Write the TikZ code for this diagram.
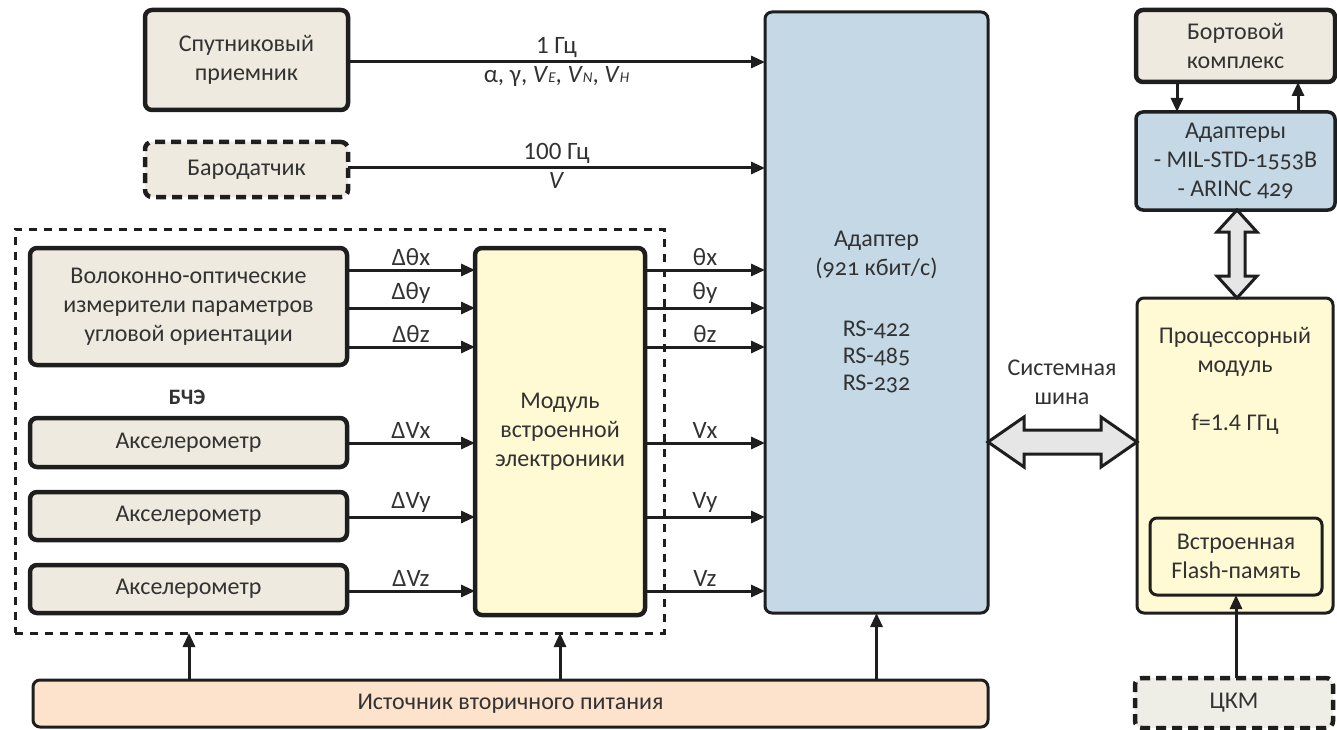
\documentclass[tikz,border=0pt]{standalone}
\usepackage{fontspec}
\setmainfont{Carlito}
\usetikzlibrary{arrows.meta}
\definecolor{bgbeige}{RGB}{238,234,223}
\definecolor{bgyellow}{RGB}{255,249,212}
\definecolor{bgblue}{RGB}{197,216,230}
\definecolor{bgorange}{RGB}{253,226,204}
\definecolor{bggrey}{RGB}{230,230,230}
\definecolor{bgckm}{RGB}{238,237,230}
\definecolor{linec}{RGB}{30,30,30}
\definecolor{txtc}{RGB}{50,50,50}
\newcommand\lowsub[1]{{\fontsize{15}{15}\selectfont\itshape #1}}
\newcommand\osnum{\addfontfeatures{Numbers=OldStyle}}
\begin{document}
\begin{tikzpicture}[x=1pt,y=-1pt,
  font=\fontsize{24}{29}\selectfont,
  every node/.style={text=txtc},
  boxbase/.style={draw=linec, rounded corners=7pt, align=center, inner sep=0pt, outer sep=0pt},
  heavybox/.style={boxbase, line width=4.5pt, fill=bgbeige},
  dashbox/.style={boxbase, line width=4.5pt, dash pattern=on 10pt off 6pt},
  thinbox/.style={boxbase, line width=3pt},
  arr/.style={draw=linec, line width=3pt, -{Triangle[length=14pt,width=12pt]}},
  lbl/.style={inner sep=3pt, font=\fontsize{25}{29}\selectfont},
  busarrow/.style={draw=linec, line width=3pt, fill=bggrey, line join=miter}]
\useasboundingbox (0,0) rectangle (1337,730);

% BCHE region
\node[draw=linec, line width=3pt, dash pattern=on 8pt off 7pt, minimum width=649, minimum height=404, inner sep=0pt, outer sep=0pt] (bche) at (339.5,431) {};
\node[font=\fontsize{22}{26}\selectfont\bfseries] (bchelbl) at (187,397) {БЧЭ};

% boxes
\node[heavybox, minimum width=203, minimum height=100] (sat) at (246.5,60) {Спутниковый\\приемник};
\node[dashbox, fill=bgbeige, minimum width=203, minimum height=55] (baro) at (246.5,169.5) {Бародатчик};
\node[heavybox, minimum width=317, minimum height=117] (fog) at (188.5,306.5) {Волоконно-оптические\\измерители параметров\\угловой ориентации};
\node[heavybox, minimum width=317, minimum height=49] (acc1) at (188.5,442.5) {Акселерометр};
\node[heavybox, minimum width=317, minimum height=48] (acc2) at (188.5,516) {Акселерометр};
\node[heavybox, minimum width=317, minimum height=48] (acc3) at (188.5,589) {Акселерометр};
\node[heavybox, fill=bgyellow, minimum width=170, minimum height=367] (mod) at (560,431.5) {Модуль\\встроенной\\электроники};
\node[thinbox, fill=bgblue, minimum width=223, minimum height=601] (adp) at (876.5,312.5) {Адаптер\\({\osnum 921} кбит/с)\\[32pt]{\osnum RS-422}\\[-2pt]{\osnum RS-485}\\[-2pt]{\osnum RS-232}};
\node[heavybox, minimum width=199, minimum height=72] (bort) at (1235.5,46) {Бортовой\\комплекс};
\node[boxbase, line width=3.5pt, fill=bgblue, minimum width=199, minimum height=98] (adps) at (1235.5,161) {Адаптеры\\- MIL-STD-{\osnum 1553}B\\- ARINC {\osnum 429}};
\node[thinbox, fill=bgyellow, minimum width=196, minimum height=315] (proc) at (1235,455.5) {};
\node[align=center] (proctxt) at (1235,381) {Процессорный\\модуль\\[29pt]f=1.4 ГГц};
\node[thinbox, fill=bgyellow, minimum width=172, minimum height=77] (flash) at (1236,556.5) {Встроенная\\Flash-память};
\node[dashbox, fill=bgckm, minimum width=198, minimum height=50] (ckm) at (1234,703) {ЦКМ};
\node[thinbox, fill=bgorange, minimum width=955, minimum height=47] (pwr) at (510.5,703.5) {Источник вторичного питания};
\node[align=center] (bustxt) at (1062,382) {Системная\\шина};

% top inputs
\draw[arr] (sat.east |- 0,62) -- node[above,lbl]{1 Гц} node[below,lbl]{α, γ, \textit{V}\lowsub{E}, \textit{V}\lowsub{N}, \textit{V}\lowsub{H}} (adp.west |- 0,62);
\draw[arr] (baro.east |- 0,168) -- node[above,lbl]{100 Гц} node[below,lbl]{\textit{V}} (adp.west |- 0,168);

% FOG to module
\draw[arr] (fog.east |- 0,270) -- node[above,lbl]{Δθx} (mod.west |- 0,270);
\draw[arr] (fog.east |- 0,308) -- node[above,lbl]{Δθy} (mod.west |- 0,308);
\draw[arr] (fog.east |- 0,347) -- node[above,lbl]{Δθz} (mod.west |- 0,347);
% accelerometers to module
\draw[arr] (acc1.east |- 0,443) -- node[above,lbl]{ΔVx} (mod.west |- 0,443);
\draw[arr] (acc2.east |- 0,517) -- node[above,lbl]{ΔVy} (mod.west |- 0,517);
\draw[arr] (acc3.east |- 0,591) -- node[above,lbl]{ΔVz} (mod.west |- 0,591);
% module to adapter
\draw[arr] (mod.east |- 0,270) -- node[above,lbl]{θx} (adp.west |- 0,270);
\draw[arr] (mod.east |- 0,308) -- node[above,lbl]{θy} (adp.west |- 0,308);
\draw[arr] (mod.east |- 0,347) -- node[above,lbl]{θz} (adp.west |- 0,347);
\draw[arr] (mod.east |- 0,443) -- node[above,lbl]{Vx} (adp.west |- 0,443);
\draw[arr] (mod.east |- 0,517) -- node[above,lbl]{Vy} (adp.west |- 0,517);
\draw[arr] (mod.east |- 0,591) -- node[above,lbl]{Vz} (adp.west |- 0,591);

% power
\draw[arr] (pwr.north -| 189,0) -- (bche.south -| 189,0);
\draw[arr] (pwr.north -| 560,0) -- (bche.south -| 560,0);
\draw[arr] (pwr.north -| adp.south) -- (adp.south);

% right column
\draw[arr] (bort.south -| 1177,0) -- (adps.north -| 1177,0);
\draw[arr] (adps.north -| 1298,0) -- (bort.south -| 1298,0);
\draw[arr] (ckm.north -| flash.south) -- (flash.south);

% bus arrows
\coordinate (busL) at (adp.east |- 0,442);
\coordinate (busR) at (proc.west |- 0,442);
\draw[busarrow] (busL) -- ++(36,-25) -- ++(0,13) -- ++(77,0) -- ++(0,-13) -- (busR) -- ++(-36,25) -- ++(0,-13) -- ++(-77,0) -- ++(0,13) -- cycle;
\coordinate (busT) at (adps.south -| 1237,0);
\coordinate (busB) at (proc.north -| 1237,0);
\draw[busarrow] (busT) -- ++(20,22) -- ++(-12,0) -- ++(0,44) -- ++(12,0) -- (busB) -- ++(-20,-22) -- ++(12,0) -- ++(0,-44) -- ++(-12,0) -- cycle;
\end{tikzpicture}
\end{document}
